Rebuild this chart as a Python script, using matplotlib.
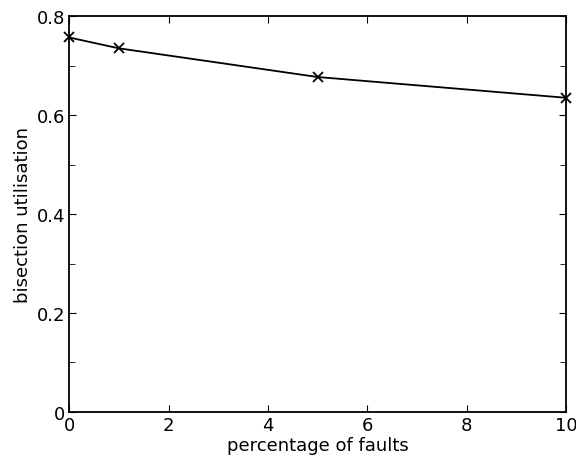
import matplotlib
matplotlib.use('Agg')
import matplotlib.pyplot as plt
from matplotlib.ticker import MultipleLocator

# dados
faults = [0, 1, 5, 10]
utilisation = [0.757, 0.735, 0.677, 0.635]

fig = plt.figure(figsize=(5.76, 4.64), dpi=100)
ax = fig.add_axes([0.120, 0.110, 0.863, 0.853])

ax.plot(faults, utilisation, color='black', linewidth=1.3, marker='x',
        markersize=7, markeredgewidth=1.3, clip_on=False)

ax.set_xlim(0, 10)
ax.set_ylim(0, 0.8)
ax.set_xticks([0, 2, 4, 6, 8, 10])
ax.set_yticks([0, 0.2, 0.4, 0.6, 0.8])
ax.set_yticklabels(['0', '0.2', '0.4', '0.6', '0.8'])
ax.yaxis.set_minor_locator(MultipleLocator(0.1))

ax.tick_params(which='both', direction='in', top=True, right=True, labelsize=13, pad=3)
ax.tick_params(which='major', length=5)
ax.tick_params(which='minor', length=4)
for s in ax.spines.values():
    s.set_linewidth(1.3)

ax.set_xlabel('percentage of faults', fontsize=13, labelpad=1)
ax.set_ylabel('bisection utilisation', fontsize=13, labelpad=3)

fig.savefig('out.png', dpi=100)
